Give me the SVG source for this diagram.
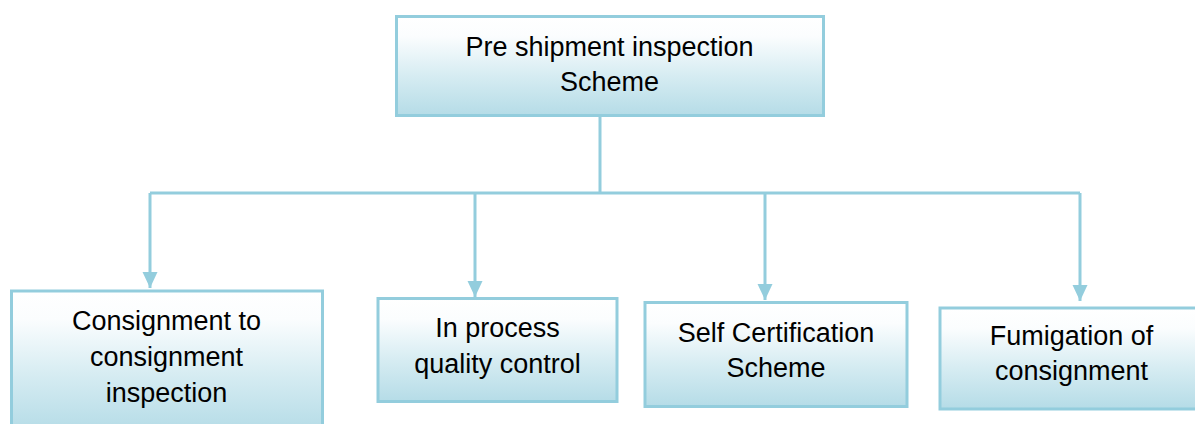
<svg xmlns="http://www.w3.org/2000/svg" width="1195" height="424" viewBox="0 0 1195 424">
<defs>
<linearGradient id="fill" x1="0" y1="0" x2="0" y2="1">
<stop offset="0" stop-color="#ffffff"/>
<stop offset="0.2" stop-color="#fbfdfe"/>
<stop offset="0.6" stop-color="#d6ecf2"/>
<stop offset="1" stop-color="#b5dce7"/>
</linearGradient>
<marker id="arrow" markerUnits="userSpaceOnUse" markerWidth="16" markerHeight="16" refX="16" refY="7.5" orient="auto">
<path d="M0,0 L16,7.5 L0,15 z" fill="#93cddd"/>
</marker>
</defs>
<style>
.box{fill:url(#fill);stroke:#93cddd;stroke-width:3}
.lbl{font-family:"Liberation Sans",Arial,sans-serif;font-size:27px;fill:#000;text-anchor:middle}
.conn{fill:none;stroke:#93cddd;stroke-width:3}
</style>
<rect width="1195" height="424" fill="#ffffff"/>
<g id="connectors">
<path class="conn" d="M600,116 V193"/>
<path class="conn" d="M150,193 H1080"/>
<path class="conn" d="M150,193 V288" marker-end="url(#arrow)"/>
<path class="conn" d="M475,193 V297" marker-end="url(#arrow)"/>
<path class="conn" d="M765,193 V300" marker-end="url(#arrow)"/>
<path class="conn" d="M1080,193 V301" marker-end="url(#arrow)"/>
</g>
<g id="node-root">
<rect class="box" x="396.5" y="16.5" width="427" height="99"/>
<text class="lbl" x="609.5" y="56">Pre shipment inspection</text>
<text class="lbl" x="609.5" y="91">Scheme</text>
</g>
<g id="node-consignment">
<rect class="box" x="11.5" y="291" width="311" height="140"/>
<text class="lbl" x="166.5" y="330">Consignment to</text>
<text class="lbl" x="166.5" y="366">consignment</text>
<text class="lbl" x="166.5" y="402">inspection</text>
</g>
<g id="node-inprocess">
<rect class="box" x="378" y="298.5" width="239" height="103"/>
<text class="lbl" x="497.5" y="337">In process</text>
<text class="lbl" x="497.5" y="373">quality control</text>
</g>
<g id="node-selfcert">
<rect class="box" x="645" y="302.5" width="262" height="104"/>
<text class="lbl" x="776" y="342">Self Certification</text>
<text class="lbl" x="776" y="377">Scheme</text>
</g>
<g id="node-fumigation">
<rect class="box" x="940" y="308" width="264" height="101"/>
<text class="lbl" x="1071.5" y="345">Fumigation of</text>
<text class="lbl" x="1071.5" y="380">consignment</text>
</g>
</svg>
